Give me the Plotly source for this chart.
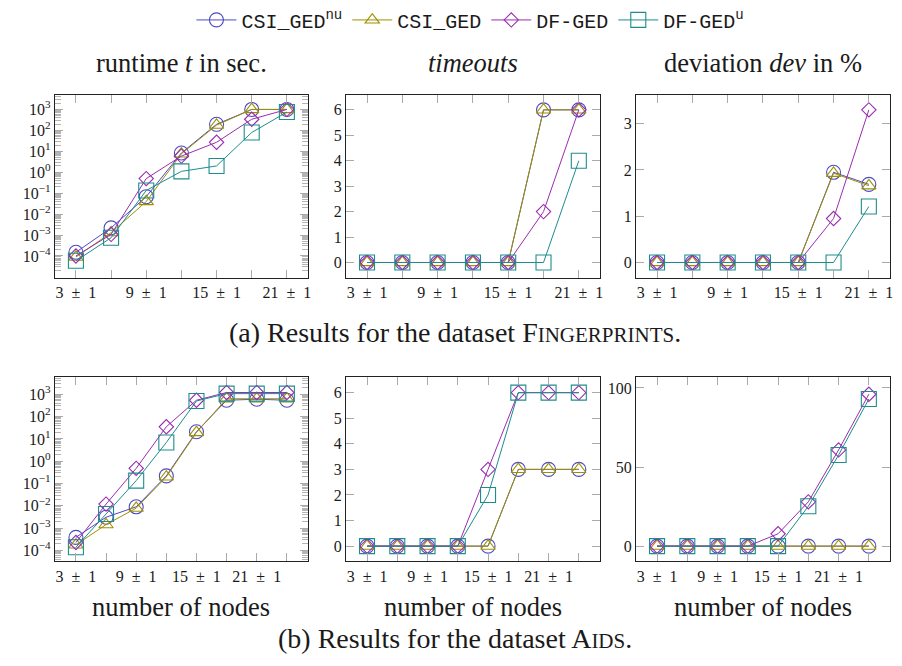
import plotly.graph_objects as go

# ---------------- data ----------------
nodes_fp = [3, 6, 9, 12, 15, 18, 21]
nodes_aids = [3, 6, 9, 12, 15, 18, 21, 24]
xtick_text_fp = ["3 ± 1", "", "9 ± 1", "", "15 ± 1", "", "21 ± 1"]
xtick_text_aids = ["3 ± 1", "", "9 ± 1", "", "15 ± 1", "", "21 ± 1", ""]

series_names = ["CSI_GED<sup>nu</sup>", "CSI_GED", "DF-GED", "DF-GED<sup>u</sup>"]

# Fingerprints: runtime in seconds
fp_runtime_csi_nu = [1.5e-4, 2.2e-3, 6.8e-2, 8.3, 195, 1000, 1000]
fp_runtime_csi = [8.9e-5, 1.3e-3, 4.0e-2, 7.6, 178, 1000, 1000]
fp_runtime_df = [1.0e-4, 1.07e-3, 0.5, 5.9, 27, 340, 1000]
fp_runtime_df_u = [5.9e-5, 7.4e-4, 0.135, 1.1, 2.0, 79, 750]
# Fingerprints: timeouts
fp_timeouts_csi_nu = [0, 0, 0, 0, 0, 6, 6]
fp_timeouts_csi = [0, 0, 0, 0, 0, 6, 6]
fp_timeouts_df = [0, 0, 0, 0, 0, 2, 6]
fp_timeouts_df_u = [0, 0, 0, 0, 0, 0, 4]
# Fingerprints: deviation in %
fp_dev_csi_nu = [0, 0, 0, 0, 0, 1.95, 1.69]
fp_dev_csi = [0, 0, 0, 0, 0, 1.93, 1.66]
fp_dev_df = [0, 0, 0, 0, 0, 0.95, 3.3]
fp_dev_df_u = [0, 0, 0, 0, 0, 0, 1.21]

# Aids: runtime in seconds
aids_runtime_csi_nu = [3.9e-4, 3.1e-3, 9.1e-3, 0.22, 21, 540, 600, 540]
aids_runtime_csi = [1.8e-4, 1.45e-3, 7.9e-3, 0.2, 19.5, 630, 630, 630]
aids_runtime_df = [2.3e-4, 1.2e-2, 0.48, 35, 540, 1200, 1200, 1200]
aids_runtime_df_u = [1.4e-4, 4.3e-3, 0.135, 6.9, 500, 1070, 1070, 1070]
# Aids: timeouts
aids_timeouts_csi_nu = [0, 0, 0, 0, 0, 3, 3, 3]
aids_timeouts_csi = [0, 0, 0, 0, 0, 3, 3, 3]
aids_timeouts_df = [0, 0, 0, 0, 3, 6, 6, 6]
aids_timeouts_df_u = [0, 0, 0, 0, 2, 6, 6, 6]
# Aids: deviation in %
aids_dev_csi_nu = [0, 0, 0, 0, 0, 0, 0, 0]
aids_dev_csi = [0, 0, 0, 0, 0, 0, 0, 0]
aids_dev_df = [0, 0, 0, 0, 7.8, 28, 60.8, 96]
aids_dev_df_u = [0, 0, 0, 0, 0, 25.2, 57.6, 93]

log_tickvals = [1e-4, 1e-3, 1e-2, 1e-1, 1e0, 1e1, 1e2, 1e3]
log_ticktext = ["10<sup>−4</sup>", "10<sup>−3</sup>", "10<sup>−2</sup>", "10<sup>−1</sup>",
                "10<sup>0</sup>", "10<sup>1</sup>", "10<sup>2</sup>", "10<sup>3</sup>"]
timeout_ticks = [0, 1, 2, 3, 4, 5, 6]
dev_ticks_fp = [0, 1, 2, 3]
dev_ticks_aids = [0, 50, 100]

# ---------------- style ----------------
colors = ["#4b4bc4", "#a09000", "#9a2cb0", "#1e8c8c"]
symbols = ["circle-open", "triangle-up-open", "diamond-open", "square-open"]
msizes = [14, 12.5, 11, 15]
SERIF = "Liberation Serif"
MONO = "Liberation Mono"
TXT = "#1a1a1a"

# minor tick positions for log axes (2..9 times each decade)
log_minor = [m * 10.0 ** e for e in range(-6, 5) for m in range(2, 10)]

fig = go.Figure()

panels = [
    (nodes_fp, [fp_runtime_csi_nu, fp_runtime_csi, fp_runtime_df, fp_runtime_df_u], "x", "y"),
    (nodes_fp, [fp_timeouts_csi_nu, fp_timeouts_csi, fp_timeouts_df, fp_timeouts_df_u], "x2", "y2"),
    (nodes_fp, [fp_dev_csi_nu, fp_dev_csi, fp_dev_df, fp_dev_df_u], "x3", "y3"),
    (nodes_aids, [aids_runtime_csi_nu, aids_runtime_csi, aids_runtime_df, aids_runtime_df_u], "x4", "y4"),
    (nodes_aids, [aids_timeouts_csi_nu, aids_timeouts_csi, aids_timeouts_df, aids_timeouts_df_u], "x5", "y5"),
    (nodes_aids, [aids_dev_csi_nu, aids_dev_csi, aids_dev_df, aids_dev_df_u], "x6", "y6"),
]

# empty helper traces so that the minor-tick overlay axes are drawn
fig.add_trace(go.Scatter(x=[], y=[], xaxis="x", yaxis="y7", showlegend=False, hoverinfo="skip"))
fig.add_trace(go.Scatter(x=[], y=[], xaxis="x4", yaxis="y8", showlegend=False, hoverinfo="skip"))

for p, (xs, series, xa, ya) in enumerate(panels):
    for i, ys in enumerate(series):
        fig.add_trace(go.Scatter(
            x=xs, y=ys, xaxis=xa, yaxis=ya, mode="lines+markers",
            name=series_names[i], showlegend=(p == 0), legendgroup=str(i),
            line=dict(color=colors[i], width=1),
            marker=dict(symbol=symbols[i], size=msizes[i], color=colors[i],
                        line=dict(width=1.1, color=colors[i])),
        ))

W, H = 902, 666
xdoms = [(55, 309), (347, 602), (638, 893)]
ydoms = [(92, 276), (376, 561)]


def px_x(a, b):
    return [a / W, b / W]


def px_y(top, bot):
    return [1 - bot / H, 1 - top / H]


common = dict(showline=True, linecolor="#222", linewidth=1, mirror="ticks",
              ticks="inside", ticklen=8, tickcolor="#aaa", tickwidth=1,
              showgrid=False, zeroline=False, ticklabeloverflow="allow",
              tickfont=dict(family=SERIF, size=16, color=TXT))

layout = dict(width=W, height=H, margin=dict(l=0, r=0, t=0, b=0),
              paper_bgcolor="white", plot_bgcolor="white", showlegend=True)

log_ranges = {0: [-5.04, 3.71], 1: [-4.49, 3.76]}

for k in range(6):
    r, c = divmod(k, 3)
    suffix = "" if k == 0 else str(k + 1)
    xs_ticks = nodes_fp if r == 0 else nodes_aids
    xs_text = xtick_text_fp if r == 0 else xtick_text_aids
    xr = [1.2, 22.8] if r == 0 else [0.9, 26.1]
    layout["xaxis" + suffix] = dict(common, domain=px_x(*xdoms[c]), anchor="y" + suffix,
                                    range=xr, tickmode="array", tickvals=xs_ticks,
                                    ticktext=[t.replace(" ", "\u2002") for t in xs_text])
    ydict = dict(common, domain=px_y(*ydoms[r]), anchor="x" + suffix)
    if c == 0:
        ydict.update(type="log", tickmode="array", tickvals=log_tickvals, ticktext=log_ticktext,
                     range=log_ranges[r])
    elif c == 1:
        ydict.update(tickmode="array", tickvals=timeout_ticks, range=[-0.6, 6.6])
    else:
        if r == 0:
            ydict.update(tickmode="array", tickvals=dev_ticks_fp, range=[-0.33, 3.63])
        else:
            ydict.update(tickmode="array", tickvals=dev_ticks_aids, range=[-9.7, 106.7])
    layout["yaxis" + suffix] = ydict

# overlay axes carrying the minor ticks of the two log axes
for ov, base, xa, r in [("yaxis7", "y", "x", 0), ("yaxis8", "y4", "x4", 1)]:
    layout[ov] = dict(overlaying=base, anchor=xa, type="log", range=log_ranges[r],
                      autorange=False,
                      tickmode="array", tickvals=log_minor, showticklabels=False,
                      ticks="inside", ticklen=6, tickcolor="#b4b4b4", tickwidth=1,
                      mirror="ticks", showline=False, showgrid=False, zeroline=False)

layout["legend"] = dict(orientation="h", x=472 / W, xanchor="center", y=1 - 17 / H,
                        yanchor="middle", font=dict(family=MONO, size=20, color=TXT),
                        bgcolor="rgba(0,0,0,0)", itemwidth=40, tracegroupgap=0)

annotations = []
titles = ["runtime <i>t</i> in sec.", "<i>timeouts</i>", "deviation <i>dev</i> in %"]
for c, t in enumerate(titles):
    a, b = xdoms[c]
    annotations.append(dict(text=t, x=(a + b) / 2 / W, y=1 - 60 / H, xref="paper", yref="paper",
                            showarrow=False, xanchor="center", yanchor="middle",
                            font=dict(family=SERIF, size=26.5, color=TXT)))
for c in range(3):
    a, b = xdoms[c]
    annotations.append(dict(text="number of nodes", x=(a + b) / 2 / W, y=1 - 607 / H,
                            xref="paper", yref="paper", showarrow=False,
                            xanchor="center", yanchor="middle",
                            font=dict(family=SERIF, size=26.5, color=TXT)))
annotations.append(dict(text="(a) Results for the dataset F<span style='font-size:21px'>INGERPRINTS</span>.",
                        x=457 / W, y=1 - 331 / H, xref="paper", yref="paper", showarrow=False,
                        xanchor="center", yanchor="middle",
                        font=dict(family=SERIF, size=28, color=TXT)))
annotations.append(dict(text="(b) Results for the dataset A<span style='font-size:21px'>IDS</span>.",
                        x=457 / W, y=1 - 638 / H, xref="paper", yref="paper", showarrow=False,
                        xanchor="center", yanchor="middle",
                        font=dict(family=SERIF, size=28, color=TXT)))
layout["annotations"] = annotations

fig.update_layout(**layout)
fig.write_html("out.html", config={"displayModeBar": False},
               post_script="document.body.style.margin='0';document.body.style.overflow='hidden';")
